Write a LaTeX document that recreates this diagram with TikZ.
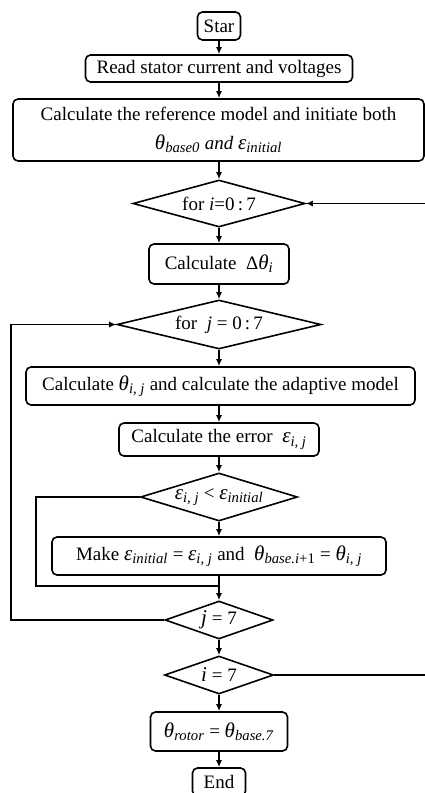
\documentclass[tikz,border=0pt]{standalone}
\usepackage{fontspec}
\setmainfont{Liberation Serif}
\usetikzlibrary{positioning,shapes.geometric,arrows.meta}

% italic symbol with italic subscript
\newcommand{\sym}[2]{{\fontsize{21}{24}\selectfont\textit{#1}\textsubscript{\textit{#2}}}}
\newcommand{\bigsym}[1]{{\fontsize{21}{24}\selectfont\textit{#1}}}

\begin{document}
\begin{tikzpicture}[x=1pt,y=1pt,line width=1.6pt,
            font=\fontsize{19}{24}\selectfont,
            process/.style={draw,rectangle,rounded corners=5pt,inner sep=0pt,align=center},
            decision/.style={draw,diamond,inner sep=0pt},
            flow/.style={-{Latex[length=7pt,width=6pt]}}]

        \useasboundingbox (0,0) rectangle (425,-793);

        % Define vertices
        \node[process,minimum width=43pt,minimum height=28pt] (start) at (219,-26) {Star};
        \node[process,minimum width=267pt,minimum height=27pt] (read) at (219,-68.5) {Read stator current and voltages};
        \node[process,minimum width=411pt,minimum height=62pt] (refmodel) at (218.5,-130)
            {Calculate the reference model and initiate both\\[5pt] \sym{θ}{base0} \textit{and} \sym{ε}{initial}};
        \node[decision,minimum width=172pt,minimum height=47pt,aspect=3.66] (fori) at (219,-203.5)
            {for \textit{i}=0\,:\,7};
        \node[process,minimum width=140pt,minimum height=40pt] (dtheta) at (219,-264)
            {Calculate\ \ Δ\sym{θ}{i}};
        \node[decision,minimum width=204pt,minimum height=49pt,aspect=4.16] (forj) at (219,-324.5)
            {for\ \ \textit{j} = 0\,:\,7};
        \node[process,minimum width=389pt,minimum height=38pt] (thetaij) at (220.5,-386)
            {Calculate \sym{θ}{i, j} and calculate the adaptive model};
        \node[process,minimum width=200pt,minimum height=33pt] (error) at (219,-439.5)
            {Calculate the error\ \ \sym{ε}{i, j}};
        \node[decision,minimum width=157pt,minimum height=48pt,aspect=3.3,inner xsep=-30pt] (cmp) at (219,-497)
            {\sym{ε}{i, j} < \sym{ε}{initial}};
        \node[process,minimum width=334pt,minimum height=38pt] (update) at (219,-556)
            {Make \sym{ε}{initial} = \sym{ε}{i, j} and\ \ \sym{θ}{base.i\textup{+1}} = \sym{θ}{i, j}};
        \coordinate (merge) at (219,-586);
        \node[decision,minimum width=108pt,minimum height=38pt,aspect=2.84] (jend) at (219,-620)
            {\bigsym{j} = 7};
        \node[decision,minimum width=109pt,minimum height=38pt,aspect=2.87] (iend) at (219,-675)
            {\bigsym{i} = 7};
        \node[process,minimum width=137pt,minimum height=39pt] (rotor) at (219,-731.5)
            {\sym{θ}{rotor} = \sym{θ}{base.7}};
        \node[process,minimum width=53pt,minimum height=28pt] (stop) at (219,-782) {End};

        % Draw edges
        \draw[flow] (start) -- (read);
        \draw[flow] (read) -- (read |- refmodel.north);
        \draw[flow] (refmodel.south -| fori) -- (fori);
        \draw[flow] (fori) -- (dtheta);
        \draw[flow] (dtheta) -- (forj);
        \draw[flow] (forj) -- (forj |- thetaij.north);
        \draw[flow] (thetaij.south -| error) -- (error);
        \draw[flow] (error) -- (cmp);
        \draw[flow] (cmp) -- (update);
        \draw (cmp.west) -- ++(-104,0) |- (merge);
        \draw[flow] (update) -- (jend);
        \draw[flow] (jend.west) -- ++(-153,0) |- (forj.west);
        \draw[flow] (jend) -- (iend);
        \draw[flow] (iend.east) -- ++(157,0) |- (fori.east);
        \draw[flow] (iend) -- (rotor);
        \draw[flow] (rotor) -- (stop);

\end{tikzpicture}
\end{document}
